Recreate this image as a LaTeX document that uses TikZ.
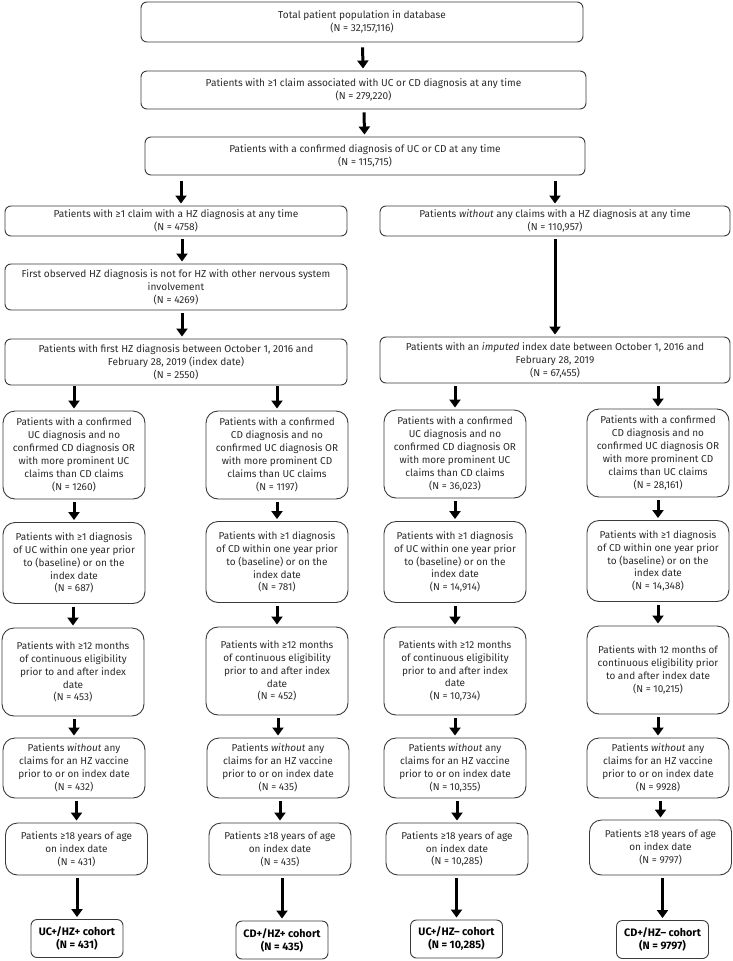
\documentclass[tikz,border=0pt]{standalone}
\usepackage{fontspec}
\setmainfont{Fira Sans}
\usetikzlibrary{arrows.meta}
\definecolor{boxc}{HTML}{3A3A3A}
\definecolor{txtc}{HTML}{2A2A2A}
\tikzset{
  box/.style={draw=boxc, line width=0.9pt, rounded corners=6pt, align=center, inner sep=0pt,
    text=txtc, font=\fontsize{10.1}{12.9}\selectfont},
  cbox/.style={box, rounded corners=12pt, minimum width=142pt, font=\fontsize{10}{12.9}\selectfont},
  cohort/.style={box, rounded corners=6pt, minimum width=92pt, minimum height=38pt,
    font=\fontsize{10.8}{13}\selectfont\bfseries, text=black},
  arr/.style={line width=3pt, -{Triangle[width=11pt,length=8pt]}, shorten <=3pt, shorten >=2pt}
}
\begin{document}
\begin{tikzpicture}[x=1pt,y=-1pt]
\useasboundingbox (0,0) rectangle (733,961);
% top section
\node[box, minimum width=442pt, minimum height=40pt] (b1) at (362,22) {Total patient population in database\\(N = 32,157,116)};
\node[box, minimum width=445pt, minimum height=38pt] (b2) at (363.5,90) {Patients with ≥1 claim associated with UC or CD diagnosis at any time\\(N = 279,220)};
\node[box, minimum width=440pt, minimum height=38pt] (b3) at (365,156) {Patients with a confirmed diagnosis of UC or CD at any time\\(N = 115,715)};
\node[box, minimum width=342pt, minimum height=30pt] (b4l) at (176,221) {Patients with ≥1 claim with a HZ diagnosis at any time\\(N = 4758)};
\node[box, minimum width=350pt, minimum height=30pt] (b4r) at (555,221) {Patients \textit{without} any claims with a HZ diagnosis at any time\\(N = 110,957)};
\node[box, minimum width=342pt, minimum height=46pt] (b5l) at (176,287) {First observed HZ diagnosis is not for HZ with other nervous system\\involvement\\(N = 4269)};
\node[box, minimum width=342pt, minimum height=46pt] (b6l) at (176,362) {Patients with first HZ diagnosis between October 1, 2016 and\\February 28, 2019 (index date)\\(N = 2550)};
\node[box, minimum width=350pt, minimum height=46pt] (b6r) at (555,360) {Patients with an \textit{imputed} index date between October 1, 2016 and\\February 28, 2019\\(N = 67,455)};
% column row 7
\node[cbox, minimum height=88pt] (a1) at (74,455) {Patients with a confirmed\\UC diagnosis and no\\confirmed CD diagnosis OR\\with more prominent UC\\claims than CD claims\\(N = 1260)};
\node[cbox, minimum height=88pt] (a2) at (277,455) {Patients with a confirmed\\CD diagnosis and no\\confirmed UC diagnosis OR\\with more prominent CD\\claims than UC claims\\(N = 1197)};
\node[cbox, minimum height=88pt] (a3) at (455,454) {Patients with a confirmed\\UC diagnosis and no\\confirmed CD diagnosis OR\\with more prominent UC\\claims than CD claims\\(N = 36,023)};
\node[cbox, minimum height=88pt] (a4) at (658,453) {Patients with a confirmed\\CD diagnosis and no\\confirmed UC diagnosis OR\\with more prominent CD\\claims than UC claims\\(N = 28,161)};
% row 8
\node[cbox, minimum height=81pt] (c1) at (74,563) {Patients with ≥1 diagnosis\\of UC within one year prior\\to (baseline) or on the\\index date\\(N = 687)};
\node[cbox, minimum height=81pt] (c2) at (277,562) {Patients with ≥1 diagnosis\\of CD within one year prior\\to (baseline) or on the\\index date\\(N = 781)};
\node[cbox, minimum height=81pt] (c3) at (455,562) {Patients with ≥1 diagnosis\\of UC within one year prior\\to (baseline) or on the\\index date\\(N = 14,914)};
\node[cbox, minimum height=81pt] (c4) at (658,561) {Patients with ≥1 diagnosis\\of CD within one year prior\\to (baseline) or on the\\index date\\(N = 14,348)};
% row 9
\node[cbox, minimum height=88pt] (d1) at (73,672) {Patients with ≥12 months\\of continuous eligibility\\prior to and after index\\date\\(N = 453)};
\node[cbox, minimum height=88pt] (d2) at (277,671) {Patients with ≥12 months\\of continuous eligibility\\prior to and after index\\date\\(N = 452)};
\node[cbox, minimum height=88pt] (d3) at (455,671) {Patients with ≥12 months\\of continuous eligibility\\prior to and after index\\date\\(N = 10,734)};
\node[cbox, minimum height=88pt] (d4) at (658,670) {Patients with 12 months of\\continuous eligibility prior\\to and after index date\\(N = 10,215)};
% row 10
\node[cbox, minimum height=60pt] (e1) at (74,768) {Patients \textit{without} any\\claims for an HZ vaccine\\prior to or on index date\\(N = 432)};
\node[cbox, minimum height=60pt] (e2) at (278,768) {Patients \textit{without} any\\claims for an HZ vaccine\\prior to or on index date\\(N = 435)};
\node[cbox, minimum height=60pt] (e3) at (455,768) {Patients \textit{without} any\\claims for an HZ vaccine\\prior to or on index date\\(N = 10,355)};
\node[cbox, minimum height=60pt] (e4) at (658,768) {Patients \textit{without} any\\claims for an HZ vaccine\\prior to or on index date\\(N = 9928)};
% row 11
\node[cbox, minimum height=52pt] (f1) at (76.5,849) {Patients ≥18 years of age\\on index date\\(N = 431)};
\node[cbox, minimum height=52pt] (f2) at (280,849) {Patients ≥18 years of age\\on index date\\(N = 435)};
\node[cbox, minimum height=52pt] (f3) at (457,849) {Patients ≥18 years of age\\on index date\\(N = 10,285)};
\node[cbox, minimum height=55pt] (f4) at (660.5,847.5) {Patients ≥18 years of age\\on index date\\(N = 9797)};
% cohorts
\node[cohort] (g1) at (77,938.5) {UC+/HZ+ cohort\\(N = 431)};
\node[cohort] (g2) at (282,940) {CD+/HZ+ cohort\\(N = 435)};
\node[cohort] (g3) at (456.5,939) {UC+/HZ– cohort\\(N = 10,285)};
\node[cohort] (g4) at (662.5,939.5) {CD+/HZ– cohort\\(N = 9797)};
% arrows
\draw[arr, shorten <=5pt] (b1) -- (b2);
\draw[arr] (b2) -- (b3);
\draw[arr, shorten <=6pt] (b3.south -| b4l.north) ++(5,0) -- ([xshift=5pt]b4l.north);
\draw[arr, shorten <=6pt] (b3.south -| b4r.north) -- (b4r.north);
\draw[arr] ([xshift=6pt]b4l.south) -- ([xshift=6pt]b5l.north);
\draw[arr] ([xshift=6pt]b5l.south) -- ([xshift=6pt]b6l.north);
\draw[arr] (b4r.south) -- (b6r.north);
\draw[arr, shorten <=1pt] (b6l.south -| a1.north) -- (a1.north);
\draw[arr, shorten <=1pt] (b6l.south -| a2.north) -- (a2.north);
\draw[arr, shorten <=3pt] (b6r.south -| a3.north) -- (a3.north);
\draw[arr, shorten <=3pt] (b6r.south -| a4.north) -- (a4.north);
\foreach \u/\v in {a1/c1,a2/c2,a3/c3,a4/c4,c1/d1,c2/d2,c3/d3,c4/d4,d1/e1,d2/e2,d3/e3,d4/e4}
  \draw[arr] (\u.south -| \v.north) -- (\v.north);
\foreach \u/\v in {e1/f1,e2/f2,e3/f3,e4/f4,f1/g1,f2/g2,f3/g3,f4/g4}
  \draw[arr] (\v.north |- \u.south) -- (\v.north);
\end{tikzpicture}
\end{document}
